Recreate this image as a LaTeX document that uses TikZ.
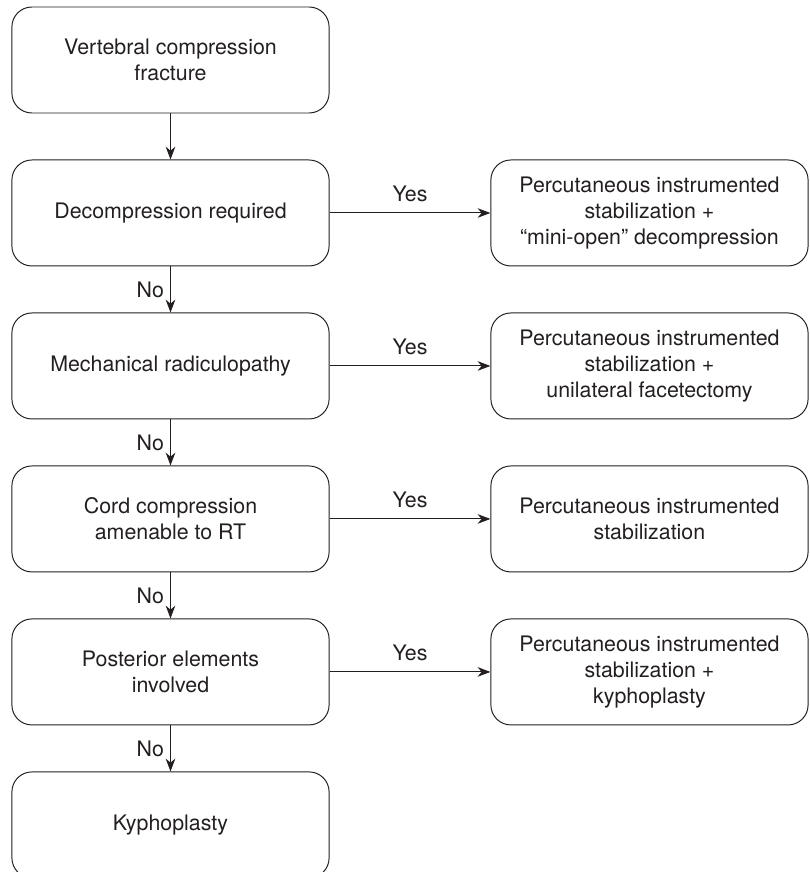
\documentclass[tikz,border=0pt]{standalone}
\usepackage{fontspec}
\setmainfont{TeX Gyre Heros}
\usetikzlibrary{arrows.meta,positioning}
\definecolor{ink}{HTML}{231F20}

\begin{document}
\begin{tikzpicture}[node distance=11.5mm and 40.2mm,
      every node/.style={font=\fontsize{15.2}{18.5}\selectfont, text=ink},
      box/.style={draw=ink, line width=0.7pt, rounded corners=5mm, align=center, minimum height=26.5mm, minimum width=79.3mm},
      arr/.style={draw=ink, line width=0.7pt, -{Stealth[length=3.2mm,width=2.4mm,inset=1mm]}}]
    \useasboundingbox (0,0) rectangle (20.225,-21.8);
    % decision column
    \node[box] (vcf) at (4.2625,-1.5) {Vertebral compression\\fracture};
    \node[box, below=of vcf] (decomp) {Decompression required};
    \node[box, below=of decomp] (radic) {Mechanical radiculopathy};
    \node[box, below=of radic] (cord) {Cord compression\\amenable to RT};
    \node[box, below=of cord] (post) {Posterior elements\\involved};
    \node[box, below=of post] (kypho) {Kyphoplasty};
    % treatment column
    \node[box, right=of decomp] (pisMini) {Percutaneous instrumented\\stabilization +\\``mini-open'' decompression};
    \node[box, right=of radic] (pisFacet) {Percutaneous instrumented\\stabilization +\\unilateral facetectomy};
    \node[box, right=of cord] (pis) {Percutaneous instrumented\\stabilization};
    \node[box, right=of post] (pisKypho) {Percutaneous instrumented\\stabilization +\\kyphoplasty};
    \draw[arr] (vcf) -- (decomp);
    \draw[arr] (decomp) -- node[left=1pt] {No} (radic);
    \draw[arr] (radic) -- node[left=1pt] {No} (cord);
    \draw[arr] (cord) -- node[left=1pt] {No} (post);
    \draw[arr] (post) -- node[left=1pt] {No} (kypho);
    \draw[arr] (decomp) -- node[above=4pt] {Yes} (pisMini);
    \draw[arr] (radic) -- node[above=4pt] {Yes} (pisFacet);
    \draw[arr] (cord) -- node[above=4pt] {Yes} (pis);
    \draw[arr] (post) -- node[above=4pt] {Yes} (pisKypho);
  \end{tikzpicture}
\end{document}
